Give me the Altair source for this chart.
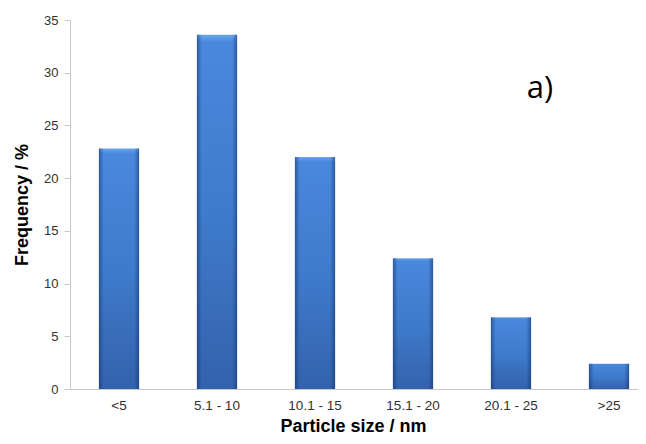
import altair as alt
import pandas as pd

categories = ["<5", "5.1 - 10", "10.1 - 15", "15.1 - 20", "20.1 - 25", ">25"]
frequency = [22.8, 33.6, 22.0, 12.4, 6.8, 2.4]

df = pd.DataFrame({"size": categories, "freq": frequency})
ann = pd.DataFrame({"size": ["20.1 - 25"], "freq": [27.6], "label": ["a)"]})

xscale = alt.Scale(domain=categories, range=[0, 588], paddingInner=0.59, paddingOuter=0.295)
yscale = alt.Scale(domain=[0, 35], nice=False)

xenc = alt.X("size:N", scale=xscale, sort=categories,
             axis=alt.Axis(title="Particle size / nm", labelAngle=0, ticks=False,
                           domainColor="#c8c8c8", labelColor="#303030", labelFontSize=13.5,
                           labelFont="Liberation Sans", labelPadding=9,
                           titleFont="Liberation Sans", titleFontSize=18, titleFontWeight="bold",
                           titleColor="#000000", titleX=283, titleY=42,
                           titleAlign="center", titleBaseline="alphabetic"))
yenc = alt.Y("freq:Q", scale=yscale,
             axis=alt.Axis(title="Frequency / %", values=[0, 5, 10, 15, 20, 25, 30, 35],
                           grid=False, domainColor="#c8c8c8", tickColor="#c8c8c8", tickSize=6,
                           labelColor="#303030", labelFontSize=13, labelFont="Liberation Sans",
                           labelPadding=6,
                           titleFont="Liberation Sans", titleFontSize=18, titleFontWeight="bold",
                           titleColor="#000000", titlePadding=12))

base_grad = alt.Gradient(gradient="linear", x1=0, x2=0, y1=0, y2=1,
                         stops=[alt.GradientStop(color="#6aa6ec", offset=0),
                                alt.GradientStop(color="#4a88dc", offset=0.02),
                                alt.GradientStop(color="#3f7bcc", offset=0.5),
                                alt.GradientStop(color="#3362ac", offset=1)])
edge_grad = alt.Gradient(gradient="linear", x1=0, x2=1, y1=0, y2=0,
                         stops=[alt.GradientStop(color="rgba(20,50,110,0.55)", offset=0),
                                alt.GradientStop(color="rgba(20,50,110,0.0)", offset=0.12),
                                alt.GradientStop(color="rgba(20,50,110,0.0)", offset=0.88),
                                alt.GradientStop(color="rgba(20,50,110,0.55)", offset=1)])

bars = alt.Chart(df).mark_bar(color=base_grad).encode(x=xenc, y=yenc)
edges = alt.Chart(df).mark_bar(color=edge_grad).encode(x=alt.X("size:N", sort=categories), y="freq:Q")

text = alt.Chart(ann).mark_text(fontSize=31, font="Open Sans", align="center",
                                baseline="alphabetic", dx=29, color="#000000").encode(
    x=alt.X("size:N", sort=categories), y="freq:Q", text="label:N")

chart = alt.layer(bars, edges, text).properties(
    width=568, height=369,
    autosize=alt.AutoSizeParams(type="none"),
    padding={"left": 62, "top": 12, "right": 0, "bottom": 47},
).configure_view(stroke=None)

chart.save("out.html", embed_options={"renderer": "svg", "actions": False})
